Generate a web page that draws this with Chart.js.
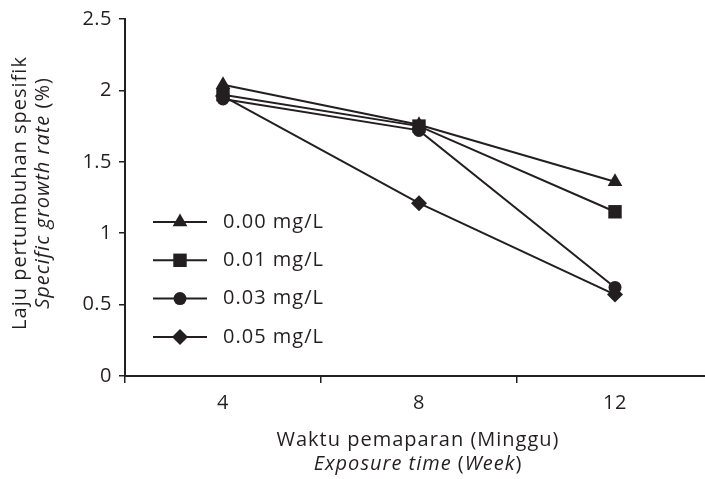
<!DOCTYPE html>
<html><head><meta charset="utf-8">
<script src="https://cdn.jsdelivr.net/npm/chart.js@4.4.1/dist/chart.umd.min.js"></script>
<style>html,body{margin:0;padding:0;background:#fff;}#wrap{width:705px;height:479px;}</style>
</head><body><div id="wrap"><canvas id="c" width="705" height="479"></canvas></div>
<script>
// ---- data ----
const weeks = [4, 8, 12];
const seriesLabels = ['0.00 mg/L', '0.01 mg/L', '0.03 mg/L', '0.05 mg/L'];
const conc000 = [2.04, 1.76, 1.36];
const conc001 = [1.97, 1.75, 1.15];
const conc003 = [1.94, 1.72, 0.62];
const conc005 = [1.96, 1.21, 0.57];
const yTickValues = [0, 0.5, 1, 1.5, 2, 2.5];
const xTickMarks = [2, 6, 10];
const xTitle1 = [['Waktu pemaparan (Minggu)', false]];
const xTitle2 = [['Exposure time', true], [' (', false], ['Week', true], [')', false]];
const yTitle1 = [['Laju pertumbuhan spesifik', false]];
const yTitle2 = [['Specific growth rate', true], [' (%)', false]];

const INK = '#231f20';
const FONT = "'Open Sans'";
const FS = 20;
const XMAX = 2 + 580 / 49;

const styles = [
  {pointStyle: 'triangle', radius: 8.5},
  {pointStyle: 'rect', radius: 9.5},
  {pointStyle: 'circle', radius: 6.5},
  {pointStyle: 'rectRot', radius: 8}
];
const allSeries = [conc000, conc001, conc003, conc005];

const datasets = allSeries.map((vals, i) => ({
  label: seriesLabels[i],
  data: weeks.map((w, j) => ({x: w, y: vals[j]})),
  borderColor: INK,
  backgroundColor: INK,
  borderWidth: 2,
  pointStyle: styles[i].pointStyle,
  pointRadius: styles[i].radius,
  pointBorderWidth: 0,
  pointBackgroundColor: INK,
  tension: 0,
  clip: false
}));

function drawMixed(ctx, parts, cx, cy, rotate) {
  ctx.save();
  ctx.letterSpacing = '1px';
  ctx.translate(cx, cy);
  if (rotate) ctx.rotate(-Math.PI / 2);
  let total = 0;
  const widths = parts.map(p => {
    ctx.font = (p[1] ? 'italic ' : '') + FS + 'px ' + FONT;
    const w = ctx.measureText(p[0]).width;
    total += w;
    return w;
  });
  let x = -total / 2;
  ctx.fillStyle = INK;
  ctx.textBaseline = 'middle';
  ctx.textAlign = 'left';
  parts.forEach((p, k) => {
    ctx.font = (p[1] ? 'italic ' : '') + FS + 'px ' + FONT;
    ctx.fillText(p[0], x, 0);
    x += widths[k];
  });
  ctx.restore();
}

function drawMarker(ctx, style, r, x, y) {
  if (Chart.helpers && Chart.helpers.drawPoint) {
    ctx.fillStyle = INK; ctx.strokeStyle = INK;
    Chart.helpers.drawPoint(ctx, {pointStyle: style, radius: r, rotation: 0, borderWidth: 0}, x, y);
  }
}

const extras = {
  id: 'extras',
  beforeDraw(chart) { chart.ctx.letterSpacing = '0.5px'; },
  afterDatasetsDraw(chart) {
    const ctx = chart.ctx;
    allSeries.forEach((s, i) => {
      const y = 222 + i * 38.3;
      ctx.save();
      ctx.strokeStyle = INK; ctx.lineWidth = 2;
      ctx.beginPath(); ctx.moveTo(153, y); ctx.lineTo(207, y); ctx.stroke();
      drawMarker(ctx, styles[i].pointStyle, styles[i].radius, 180, y);
      ctx.fillStyle = INK;
      ctx.letterSpacing = '1px';
      ctx.font = FS + 'px ' + FONT;
      ctx.textBaseline = 'middle'; ctx.textAlign = 'left';
      ctx.fillText(seriesLabels[i], 223, y);
      ctx.restore();
    });
    drawMixed(ctx, xTitle1, 418, 440, false);
    drawMixed(ctx, xTitle2, 418, 464, false);
    drawMixed(ctx, yTitle1, 20, 193, true);
    drawMixed(ctx, yTitle2, 43, 193, true);
  }
};

new Chart(document.getElementById('c'), {
  type: 'line',
  data: {datasets},
  options: {
    responsive: false,
    devicePixelRatio: 1,
    animation: false,
    layout: {autoPadding: false, padding: {top: 15, left: 0, right: 0, bottom: 0}},
    plugins: {legend: {display: false}, tooltip: {enabled: false}},
    scales: {
      x: {
        type: 'linear', min: 2, max: XMAX,
        afterBuildTicks: s => { s.ticks = [2, 4, 6, 8, 10, 12, XMAX].map(v => ({value: v})); },
        afterFit: s => { s.height = 103; s.paddingRight = 0; s.paddingLeft = 0; },
        ticks: {
          autoSkip: false, maxRotation: 0, padding: 0, color: INK,
          font: {family: FONT, size: FS, lineHeight: 2.0},
          callback: v => weeks.includes(v) ? String(v) : ''
        },
        grid: {
          drawOnChartArea: false, drawTicks: true, tickLength: 7, lineWidth: 1.5,
          color: c => (c.tick && xTickMarks.includes(c.tick.value)) ? INK : 'rgba(0,0,0,0)'
        },
        border: {color: INK, width: 2}
      },
      y: {
        min: 0, max: 2.5,
        afterBuildTicks: s => { s.ticks = yTickValues.map(v => ({value: v})); },
        afterFit: s => { s.width = 125; },
        ticks: {color: INK, padding: 7, font: {family: FONT, size: FS}, callback: v => String(v)},
        grid: {drawOnChartArea: false, drawTicks: true, tickLength: 6, lineWidth: 1.5, color: INK},
        border: {color: INK, width: 2}
      }
    }
  },
  plugins: [extras]
});
</script></body></html>
